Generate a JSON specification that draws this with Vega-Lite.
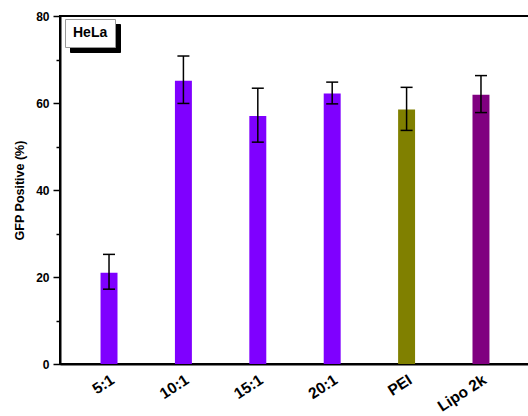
{
  "$schema": "https://vega.github.io/schema/vega-lite/v6.json",
  "width": 470,
  "height": 348,
  "autosize": {"type": "none"},
  "padding": {"left": 60, "top": 16, "right": 0, "bottom": 52},
  "background": "white",
  "config": {
    "view": {"stroke": "black", "strokeWidth": 2},
    "font": "Liberation Sans",
    "axis": {"titleColor": "black", "labelColor": "black"}
  },
  "layer": [
    {
      "data": {
        "values": [
          {"group": "5:1", "value": 21.0, "lo": 17.2, "hi": 25.2},
          {"group": "10:1", "value": 65.1, "lo": 59.9, "hi": 70.8},
          {"group": "15:1", "value": 57.0, "lo": 51.0, "hi": 63.4},
          {"group": "20:1", "value": 62.2, "lo": 59.8, "hi": 64.8},
          {"group": "PEI", "value": 58.5, "lo": 53.7, "hi": 63.6},
          {"group": "Lipo 2k", "value": 61.9, "lo": 57.8, "hi": 66.3}
        ]
      },
      "encoding": {
        "x": {
          "field": "group",
          "type": "nominal",
          "sort": null,
          "scale": {"paddingInner": 0.772, "paddingOuter": 0.545},
          "axis": {
            "title": null,
            "labelAngle": -33,
            "labelFontSize": 15.5,
            "labelFontWeight": "bold",
            "labelColor": "black",
            "ticks": false,
            "domainColor": "black",
            "domainWidth": 2,
            "labelPadding": 8
          }
        }
      },
      "layer": [
        {
          "mark": {"type": "bar"},
          "encoding": {
            "y": {
              "field": "value",
              "type": "quantitative",
              "title": "GFP Positive (%)",
              "scale": {"domain": [0, 80]},
              "axis": {
                "values": [0, 10, 20, 30, 40, 50, 60, 70, 80],
                "labelExpr": "datum.value % 20 === 0 ? datum.label : ''",
                "tickSize": {"condition": {"test": "datum.value % 20 === 0", "value": 7}, "value": 4},
                "grid": false,
                "domainColor": "black",
                "domainWidth": 2,
                "tickColor": "black",
                "tickWidth": 1.5,
                "labelFontSize": 12,
                "labelFontWeight": "bold",
                "labelColor": "black",
                "labelPadding": 4,
                "titleFontSize": 12.5,
                "titleFontWeight": "bold",
                "titleColor": "black",
                "titlePadding": 9
              }
            },
            "color": {
              "field": "group",
              "type": "nominal",
              "scale": {
                "domain": ["5:1", "10:1", "15:1", "20:1", "PEI", "Lipo 2k"],
                "range": ["#7f00ff", "#7f00ff", "#7f00ff", "#7f00ff", "#808000", "#800080"]
              },
              "legend": null
            }
          }
        },
        {
          "mark": {"type": "rule", "color": "black", "strokeWidth": 1.5},
          "encoding": {
            "y": {"field": "lo", "type": "quantitative", "title": "GFP Positive (%)"},
            "y2": {"field": "hi"}
          }
        },
        {
          "mark": {"type": "tick", "color": "black", "thickness": 1.5, "size": 12, "opacity": 1},
          "encoding": {
            "y": {"field": "lo", "type": "quantitative", "title": "GFP Positive (%)"}
          }
        },
        {
          "mark": {"type": "tick", "color": "black", "thickness": 1.5, "size": 12, "opacity": 1},
          "encoding": {
            "y": {"field": "hi", "type": "quantitative", "title": "GFP Positive (%)"}
          }
        }
      ]
    },
    {
      "data": {"values": [{"cellshadow": "HeLa"}]},
      "mark": {"type": "point", "opacity": 0},
      "encoding": {
        "fill": {
          "field": "cellshadow",
          "type": "nominal",
          "scale": {"range": ["black"]},
          "legend": {
            "title": null,
            "orient": "none",
            "legendX": 10,
            "legendY": 8,
            "padding": 7,
            "fillColor": "black",
            "strokeColor": "black",
            "symbolSize": 0,
            "symbolOpacity": 0,
            "labelOffset": -13,
            "labelFontSize": 14,
            "labelFontWeight": "bold",
            "labelColor": "black",
            "labelOpacity": 0,
            "zindex": 0
          }
        }
      }
    },
    {
      "data": {"values": [{"cell": "HeLa"}]},
      "mark": {"type": "point", "opacity": 0},
      "encoding": {
        "shape": {
          "field": "cell",
          "type": "nominal",
          "legend": {
            "title": null,
            "orient": "none",
            "legendX": 5,
            "legendY": 3,
            "padding": 7,
            "fillColor": "white",
            "strokeColor": "#999999",
            "symbolSize": 0,
            "symbolOpacity": 0,
            "labelOffset": -13,
            "labelFontSize": 14,
            "labelFontWeight": "bold",
            "labelColor": "black",
            "zindex": 1
          }
        }
      }
    }
  ]
}
